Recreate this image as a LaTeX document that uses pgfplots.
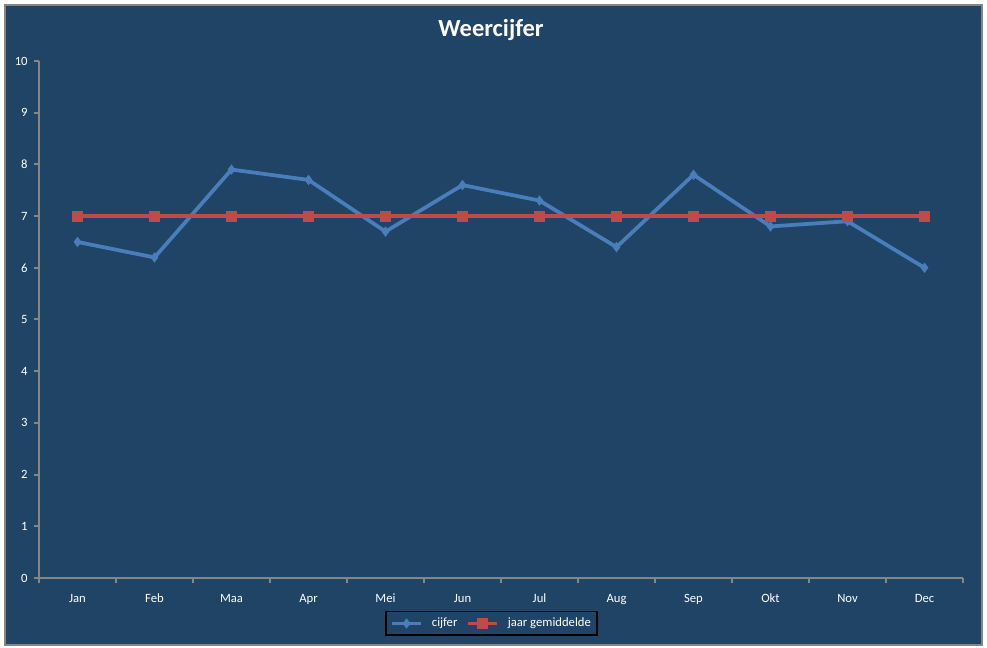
\documentclass[border=0pt]{standalone}
\usepackage{pgfplots}
\pgfplotsset{compat=1.18}
\usepackage{fontspec}
\setmainfont{Carlito}
\definecolor{bgblue}{HTML}{1F4466}
\definecolor{axgray}{HTML}{868686}
\definecolor{lineblue}{HTML}{4A7EBB}
\definecolor{linered}{HTML}{BE4B48}
\begin{document}
\begin{tikzpicture}
\fill[white] (0,0) rectangle (740.25pt,486pt);
\filldraw[fill=bgblue, draw=axgray, line width=1pt] (3.75pt,2.25pt) rectangle (736.5pt,482.25pt);
\node[text=white, font=\fontsize{18.4}{21}\selectfont\bfseries] at (368.25pt,463.5pt) {Weercijfer};
\begin{axis}[
  at={(29.25pt,52.5pt)}, anchor=south west,
  width=693pt, height=387.75pt, scale only axis,
  xmin=-0.5, xmax=11.5, ymin=0, ymax=10,
  axis x line=bottom, axis y line=left,
  axis line style={-, draw=axgray, line width=1.5pt},
  xtick={0,...,11},
  xticklabels={Jan,Feb,Maa,Apr,Mei,Jun,Jul,Aug,Sep,Okt,Nov,Dec},
  major x tick style={draw=none},
  minor xtick={-0.5,0.5,...,11.5},
  minor x tick style={draw=axgray, line width=1.5pt},
  minor tick length=4pt,
  ytick={0,1,...,10},
  major y tick style={draw=axgray, line width=1.5pt},
  major tick length=4pt,
  tick align=outside,
  ticklabel style={text=white, font=\fontsize{9.5}{10}\selectfont},
  /pgf/number format/assume math mode=true,
  xticklabel style={yshift=-4pt, text height=7pt, text depth=2pt},
  yticklabel style={xshift=-1pt},
  legend style={at={(0.49,-0.088)}, anchor=center, draw=black, line width=1.2pt,
    fill=bgblue, text=white, font=\fontsize{9.5}{10}\selectfont,
    legend columns=2, column sep=5pt, inner sep=3pt,
    nodes={inner sep=1.8pt}},
  legend image code/.code={
    \draw[mark repeat=2,mark phase=2,#1] plot coordinates {(0cm,0cm) (0.38cm,0cm) (0.76cm,0cm)};},
]
\addplot[color=lineblue, line width=2.8pt, mark=diamond*, mark size=3.5pt,
  mark options={line width=0.5pt}] coordinates {
(0,6.5) (1,6.2) (2,7.9) (3,7.7) (4,6.7) (5,7.6)
(6,7.3) (7,6.4) (8,7.8) (9,6.8) (10,6.9) (11,6.0)
};
\addlegendentry{cijfer}
\addplot[color=linered, line width=2.5pt, mark=square*, mark size=3.6pt,
  mark options={line width=0.5pt}] coordinates {
(0,7) (1,7) (2,7) (3,7) (4,7) (5,7)
(6,7) (7,7) (8,7) (9,7) (10,7) (11,7)
};
\addlegendentry{jaar gemiddelde}
\end{axis}
\end{tikzpicture}
\end{document}
